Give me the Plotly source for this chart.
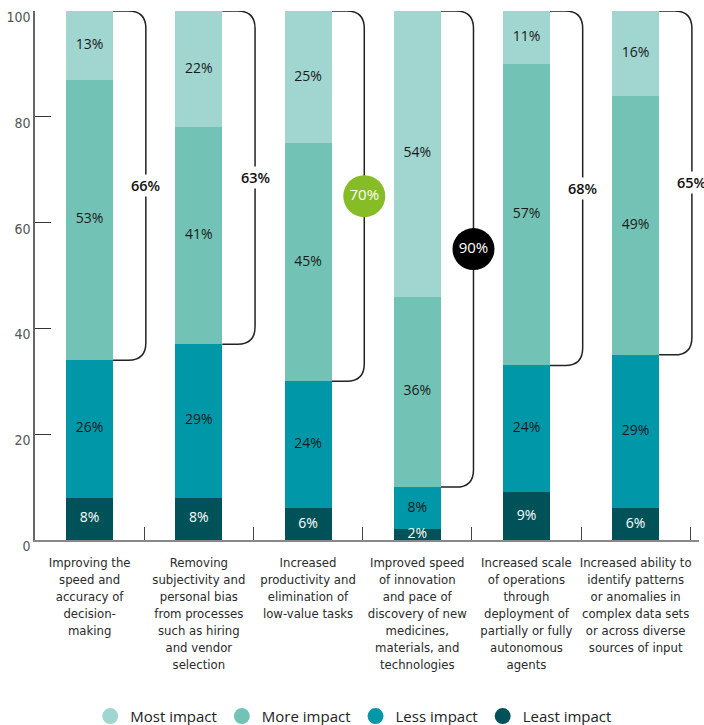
import plotly.graph_objects as go

# datos de la encuesta (porcentaje de respuestas)
categories = [
    "Improving the<br>speed and<br>accuracy of<br>decision-<br>making",
    "Removing<br>subjectivity and<br>personal bias<br>from processes<br>such as hiring<br>and vendor<br>selection",
    "Increased<br>productivity and<br>elimination of<br>low-value tasks",
    "Improved speed<br>of innovation<br>and pace of<br>discovery of new<br>medicines,<br>materials, and<br>technologies",
    "Increased scale<br>of operations<br>through<br>deployment of<br>partially or fully<br>autonomous<br>agents",
    "Increased ability to<br>identify patterns<br>or anomalies in<br>complex data sets<br>or across diverse<br>sources of input",
]
least_impact = [8, 8, 6, 2, 9, 6]
less_impact = [26, 29, 24, 8, 24, 29]
more_impact = [53, 41, 45, 36, 57, 49]
most_impact = [13, 22, 25, 54, 11, 16]
top_two = [66, 63, 70, 90, 68, 65]
highlight = [None, None, "#86BC25", "#000000", None, None]

colors = {"Most impact": "#A0D5D0", "More impact": "#72C3B5",
          "Less impact": "#0097A9", "Least impact": "#005259"}

body = "Open Sans, Noto Sans, sans-serif"
narrow = "DejaVu Sans Condensed, Liberation Sans Narrow, sans-serif"

x = list(range(len(categories)))
bar_w = 0.43

fig = go.Figure()
series = [("Least impact", least_impact, "white"),
          ("Less impact", less_impact, "#1a1a1a"),
          ("More impact", more_impact, "#1a1a1a"),
          ("Most impact", most_impact, "#1a1a1a")]
bottom = [0] * len(x)
for name, vals, tcol in series:
    fig.add_trace(go.Bar(
        x=x, y=vals, name=name, width=bar_w, marker_color=colors[name],
        marker_line_width=0, showlegend=False, hoverinfo="skip"))
    # etiquetas centradas en cada tramo visible (el eje acaba en 100)
    mids = [(b + min(b + v, 100)) / 2 for b, v in zip(bottom, vals)]
    fig.add_trace(go.Scatter(
        x=x, y=mids, mode="text", text=[f"{v}%" for v in vals], showlegend=False,
        textfont=dict(family=body, size=14, color=tcol), hoverinfo="skip",
        cliponaxis=False))
    bottom = [b + v for b, v in zip(bottom, vals)]

# leyenda con circulos
for name in ["Most impact", "More impact", "Less impact", "Least impact"]:
    fig.add_trace(go.Scatter(x=[None], y=[None], mode="markers", name=name,
                             marker=dict(color=colors[name], size=17, symbol="circle")))

# corchetes: desde el tope de "less impact" hasta 100
rx, ry = 0.16, 3.3
bx_off = 0.515
for i in x:
    base = least_impact[i] + less_impact[i]
    x0 = i + bar_w / 2
    xb = i + bx_off
    path = (f"M {x0},100 L {xb - rx},100 Q {xb},100 {xb},{100 - ry} "
            f"L {xb},{base + ry} Q {xb},{base} {xb - rx},{base} L {x0},{base}")
    fig.add_shape(type="path", path=path, line=dict(color="#222222", width=1.5), layer="below")
    mid = (base + 100) / 2
    if highlight[i]:
        fig.add_trace(go.Scatter(
            x=[xb], y=[mid], mode="markers+text", showlegend=False,
            marker=dict(size=42, color=highlight[i]),
            text=[f"{top_two[i]}%"], textposition="middle center",
            textfont=dict(family=body, size=15, color="white"), hoverinfo="skip",
            cliponaxis=False))
    else:
        fig.add_annotation(x=xb, y=mid, text=f"{top_two[i]}%", showarrow=False,
                           bgcolor="white", borderpad=1,
                           font=dict(family=body, size=14.5, color="#111", weight=600))

fig.update_layout(
    barmode="stack", width=704, height=725, plot_bgcolor="white", paper_bgcolor="white",
    margin=dict(l=35, r=5, t=11, b=185),
    legend=dict(orientation="h", x=0.48, xanchor="center", yref="container",
                y=0.012, yanchor="middle", traceorder="normal",
                font=dict(family=body, size=15, color="#222"), itemwidth=30),
)
fig.update_xaxes(range=[-0.5, 5.58], tickmode="array", tickvals=x, ticktext=categories,
                 tickangle=0, automargin=False, ticklabelstandoff=10,
                 ticks="", showline=True, linecolor="#888", linewidth=1.5,
                 tickfont=dict(family=narrow, size=13, color="#2a2a2a"),
                 minor=dict(tickmode="array", tickvals=[i + 0.5 for i in x], ticks="inside",
                            ticklen=13, tickcolor="#444", tickwidth=1.2),
                 showgrid=False, zeroline=False, fixedrange=True)
fig.update_yaxes(range=[0, 100], tickvals=[0, 20, 40, 60, 80, 100], ticks="inside",
                 ticklen=16, tickcolor="#333", tickwidth=1.2, showline=True,
                 linecolor="#666", linewidth=1.5, showgrid=False, zeroline=False,
                 automargin=False,
                 tickfont=dict(family=narrow, size=14, color="#555"),
                 ticklabelshift=6, fixedrange=True)

fig.write_html("out.html", config={"displayModeBar": False},
               post_script="document.body.style.margin='0px';")
